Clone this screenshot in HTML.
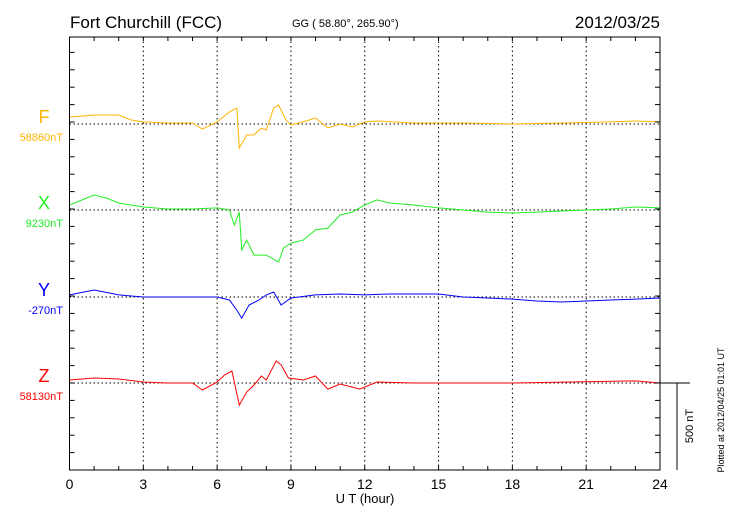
<!DOCTYPE html>
<html><head><meta charset="utf-8"><style>
body{margin:0;background:#fff}
svg{display:block;font-family:"Liberation Sans",sans-serif}
</style></head><body>
<svg id="chart" width="730" height="520" viewBox="0 0 730 520">
<text x="70" y="28" font-size="17">Fort Churchill (FCC)</text>
<text x="292" y="27" font-size="11">GG ( 58.80°, 265.90°)</text>
<text x="660" y="28" font-size="17" text-anchor="end">2012/03/25</text>
<g id="grid"></g><g id="series"></g><g id="axes"></g>
<text x="365" y="503" font-size="13" text-anchor="middle">U T (hour)</text>
<line x1="677" y1="383" x2="677" y2="470" stroke="#000"/>
<line x1="660" y1="383" x2="690" y2="383" stroke="#000"/>
<text transform="translate(693,426) rotate(-90)" font-size="11" text-anchor="middle">500 nT</text>
<text transform="translate(724,410) rotate(-90)" font-size="9" text-anchor="middle">Plotted at 2012/04/25 01:01  UT</text>
</svg>
<script>
const xTicks=[0,3,6,9,12,15,18,21,24];
const seriesNames=["F","X","Y","Z"];
const seriesBaselineLabels=["58860nT","9230nT","-270nT","58130nT"];
const fHours=[0,1,2,2.5,3,4,5,5.4,6,6.5,6.8,6.9,7.2,7.5,7.8,8,8.3,8.5,8.8,9,9.5,10,10.5,11,11.5,12,12.5,14,16,18,20,22,23,24];
const fValues=[40,52,52,23,12,6,6,-29,12,69,92,-138,-63,-63,-23,-35,92,109,23,-6,12,35,-23,0,-17,12,17,6,6,0,6,12,17,12];
const xHours=[0,1,1.5,2,3,4,5,6,6.5,6.7,6.9,7,7.2,7.5,8,8.5,8.7,9,9.5,10,10.5,11,11.5,12,12.5,13,14,15,16,17,18,19,20,21,22,23,24];
const xValues=[29,86,69,40,17,6,6,12,0,-86,-12,-230,-173,-259,-259,-299,-218,-190,-173,-115,-104,-29,-12,29,58,40,29,12,0,-12,-17,-12,-6,0,6,17,12];
const yHours=[0,1,2,3,6,6.5,6.8,7,7.3,7.7,8,8.3,8.6,9,10,11,12,13,14,15,16,17,18,19,20,21,22,23,24];
const yValues=[12,40,12,0,0,-17,-75,-121,-46,-17,12,29,-46,-6,12,17,12,17,17,17,0,-6,-12,-23,-29,-23,-17,-12,-6];
const zHours=[0,1,2,3,4,5,5.4,6,6.3,6.6,6.9,7.2,7.5,7.8,8,8.4,8.6,8.9,9.5,10,10.5,11,11.8,12.5,14,18,23,24];
const zValues=[17,29,23,6,0,0,-40,6,46,69,-127,-52,-12,40,17,127,104,29,17,40,-35,-6,-35,6,0,0,12,0];

const NS="http://www.w3.org/2000/svg";
const L=69.5,R=660,T=37,B=470;
const X=h=>L+(R-L)*h/24;
const pxPerNT=87/500;
const baselines=[124,210,297,383];
const colors=["#ffb400","#22ee22","#0000ff","#ff0000"];
function mk(tag,attrs,parent){const e=document.createElementNS(NS,tag);for(const k in attrs)e.setAttribute(k,attrs[k]);parent.appendChild(e);return e;}
const grid=document.getElementById('grid'),ax=document.getElementById('axes'),sg=document.getElementById('series');
xTicks.forEach(h=>{
  if(h>0&&h<24){const g=mk('line',{x1:X(h),x2:X(h),y1:T,y2:B,stroke:'#000','stroke-dasharray':'1.5,3'},grid);
  
  }
  const t=mk('text',{x:X(h),y:489,'font-size':14,'text-anchor':'middle'},ax);t.textContent=h;
  
  
});
for(let h=0;h<=24;h++){
  mk('line',{x1:X(h),x2:X(h),y1:T,y2:T+4,stroke:'#000'},ax);
  mk('line',{x1:X(h),x2:X(h),y1:B,y2:B-4,stroke:'#000'},ax);
}
for(let y=B;y>=T;y-=pxPerNT*100){
  mk('line',{x1:L,x2:L+5,y1:y,y2:y,stroke:'#000'},ax);
  mk('line',{x1:R,x2:R-5,y1:y,y2:y,stroke:'#000'},ax);
}
const fr=mk('rect',{x:L,y:T,width:R-L,height:B-T,fill:'none',stroke:'#000'},ax);


const allH=[fHours,xHours,yHours,zHours],allV=[fValues,xValues,yValues,zValues];
seriesNames.forEach((n,i)=>{
  const b=baselines[i];
  const bl=mk('line',{x1:L,x2:R,y1:b,y2:b,stroke:'#000','stroke-dasharray':'1.5,2.5'},grid);
  
  
  const pts=allH[i].map((h,k)=>X(h).toFixed(1)+','+(b-allV[i][k]*pxPerNT).toFixed(1)).join(' ');
  const pl=mk('polyline',{points:pts,fill:'none',stroke:colors[i],'stroke-width':1},sg);
  
  
  const t=mk('text',{x:44,y:b-1,'font-size':18,'text-anchor':'middle',fill:colors[i]},ax);t.textContent=n;
  
  
  const t2=mk('text',{x:63,y:b+17,'font-size':11,'text-anchor':'end',fill:colors[i]},ax);t2.textContent=seriesBaselineLabels[i];
  
  
});
</script>
</body></html>
